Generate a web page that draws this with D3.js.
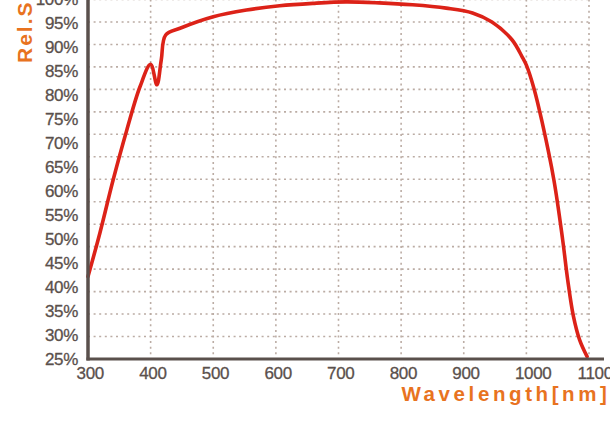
<!DOCTYPE html>
<html>
<head>
<meta charset="utf-8">
<script src="https://cdn.jsdelivr.net/npm/d3@7"></script>
<style>
  body { margin: 0; background: #fff; }
  svg { display: block; }
</style>
</head>
<body>
<div id="chart"></div>
<script>
// Relative spectral sensitivity
const wavelength = [300, 319, 340, 362, 383, 400, 410, 417, 424, 447, 500, 553, 606, 659, 712, 765, 818, 872, 914, 945, 977, 993, 1000, 1012, 1025, 1044, 1058, 1066, 1075, 1085, 1097];
const response   = [42.2, 51.3, 62.3, 72.8, 81.8, 86.5, 82.2, 87.4, 92.6, 94.0, 96.4, 97.8, 98.7, 99.2, 99.5, 99.3, 98.9, 98.2, 97.2, 95.3, 91.6, 88.1, 86.3, 81.5, 74.5, 62.3, 49.8, 41.5, 34.0, 29.0, 25.5];

const xTicks = [300, 400, 500, 600, 700, 800, 900, 1000, 1100];
const yTicks = [25, 30, 35, 40, 45, 50, 55, 60, 65, 70, 75, 80, 85, 90, 95, 100];
// the dotted grid has 16 rows, not lined up with the labels
const gridRows = 16;

const data = wavelength.map((w, i) => ({ w: w, v: response[i] }));

const width = 610, height = 426;

const svg = d3.select("#chart").append("svg")
  .attr("width", width)
  .attr("height", height);

const x = d3.scaleLinear().domain([300, 1100]).range([88, 589]);
const y = d3.scaleLinear().domain([25, 100]).range([359, -0.5]);

const gridColor = "#bbaca4";
const inkColor = "#5a504c";
const orange = "#e8731f";
const font = "'Liberation Sans', Arial, sans-serif";

// Grid
const grid = svg.append("g").attr("class", "grid");

const gridLevels = d3.range(1, gridRows + 1).map(k => 25 + k * 75 / gridRows);
grid.selectAll(".hgrid")
  .data(gridLevels)
  .enter().append("line")
  .attr("class", "hgrid")
  .attr("x1", x(300)).attr("x2", x(1100))
  .attr("y1", d => y(d)).attr("y2", d => y(d))
  .attr("stroke", gridColor)
  .attr("stroke-width", 1.6)
  .attr("stroke-dasharray", "2,3.6");

grid.selectAll(".vgrid")
  .data(xTicks.slice(1))
  .enter().append("line")
  .attr("class", "vgrid")
  .attr("x1", d => x(d)).attr("x2", d => x(d))
  .attr("y1", y(100)).attr("y2", y(25))
  .attr("stroke", gridColor)
  .attr("stroke-width", 1.6)
  .attr("stroke-dasharray", "2,3.6");

// Curve
const line = d3.line()
  .x(d => x(d.w))
  .y(d => y(d.v))
  .curve(d3.curveCatmullRom.alpha(0.5));

svg.append("path")
  .datum(data)
  .attr("d", line)
  .attr("fill", "none")
  .attr("stroke", "#dc2218")
  .attr("stroke-width", 3.6)
  .attr("stroke-linejoin", "round")
  .attr("stroke-linecap", "round");

// Axes
const yAxis = svg.append("g")
  .attr("transform", `translate(${x(300)},0)`)
  .call(d3.axisLeft(y).tickValues(yTicks).tickSize(0).tickPadding(10).tickFormat(d => d + "%"));

const xAxis = svg.append("g")
  .attr("transform", `translate(0,${y(25)})`)
  .call(d3.axisBottom(x).tickValues(xTicks).tickSize(0).tickPadding(8).tickFormat(d3.format("d")));

xAxis.select(".domain").remove();
yAxis.select(".domain").remove();

svg.append("line")
  .attr("x1", x(300)).attr("x2", x(300))
  .attr("y1", y(100) - 2).attr("y2", y(25) + 1.5)
  .attr("stroke", inkColor)
  .attr("stroke-width", 3.5);

svg.append("line")
  .attr("x1", x(300) - 1.5).attr("x2", 604)
  .attr("y1", y(25)).attr("y2", y(25))
  .attr("stroke", inkColor)
  .attr("stroke-width", 3.2);

svg.selectAll(".tick text")
  .style("font-family", font)
  .style("font-size", "17px")
  .style("letter-spacing", "-0.3px")
  .attr("fill", inkColor)
  .attr("stroke", inkColor)
  .attr("stroke-width", 0.3);

// x labels sit slightly right of their grid lines
xAxis.selectAll(".tick text")
  .attr("text-anchor", "start")
  .attr("x", -12);

// Axis titles
svg.append("text")
  .attr("x", 610.5)
  .attr("y", 401)
  .attr("text-anchor", "end")
  .style("font-family", font)
  .style("font-weight", "bold")
  .style("font-size", "20.5px")
  .style("letter-spacing", "3.6px")
  .attr("fill", orange)
  .text("Wavelength[nm]");

svg.append("text")
  .attr("transform", "translate(32,63) rotate(-90)")
  .attr("text-anchor", "start")
  .style("font-family", font)
  .style("font-weight", "bold")
  .style("font-size", "21px")
  .style("letter-spacing", "2px")
  .attr("fill", orange)
  .text("Rel.Sensitivity");
</script>
</body>
</html>
